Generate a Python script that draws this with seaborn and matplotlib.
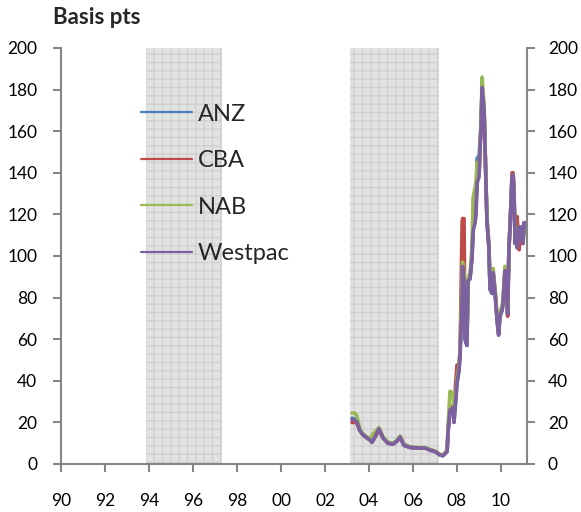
import numpy as np
import pandas as pd
import matplotlib
matplotlib.use("Agg")
import matplotlib.pyplot as plt
import seaborn as sns

# decimal years of the observations
YEARS = [2003.23, 2003.36, 2003.45, 2003.59, 2003.73, 2003.91, 2004.05, 2004.14, 2004.27, 2004.45,
         2004.64, 2004.86, 2005.09, 2005.27, 2005.41, 2005.59, 2005.86, 2006.09, 2006.32, 2006.55,
         2006.77, 2007.00, 2007.23, 2007.36, 2007.55, 2007.59, 2007.68, 2007.82, 2007.86, 2007.93,
         2008.00, 2008.09, 2008.14, 2008.23, 2008.25, 2008.32, 2008.36, 2008.45, 2008.50, 2008.59,
         2008.68, 2008.73, 2008.82, 2008.86, 2008.91, 2009.00, 2009.09, 2009.14, 2009.23, 2009.32,
         2009.36, 2009.45, 2009.50, 2009.59, 2009.64, 2009.73, 2009.82, 2009.89, 2009.95, 2010.05,
         2010.09, 2010.18, 2010.23, 2010.30, 2010.36, 2010.41, 2010.50, 2010.55, 2010.59, 2010.64,
         2010.68, 2010.73, 2010.82, 2010.86, 2010.95, 2011.00, 2011.05, 2011.14]

ANZ = [22, 21.5, 20, 16, 14, 12.5, 11.5, 10.5, 13, 17,
       12.5, 10, 9.6, 11, 13, 9, 8, 7.8, 7.7, 7.7,
       6.7, 6, 4.3, 4, 6, 15, 26, 27, 20, 29,
       39, 45, 53, 80, 95, 88, 60, 57, 88, 89,
       99, 113, 118, 122, 147, 148, 162, 181, 170, 133,
       117, 104, 84, 82, 92, 82, 69, 62, 71, 74,
       77, 93, 92, 72, 104, 114, 138, 139, 130, 106,
       111, 104, 114, 108, 114, 107, 116, 116]

CBA = [20, 20, 19.5, 16, 14, 12.5, 11.5, 10.5, 13, 16.5,
       12.5, 10, 9.6, 11, 13, 9, 8, 7.8, 7.7, 7.7,
       6.7, 6, 4.5, 4.2, 6.5, 16, 27, 28, 22, 38,
       47.6, 46, 55, 116, 118, 118, 62, 58, 88, 90,
       100, 113, 117, 121, 136, 139, 163, 181, 170, 133,
       117, 104, 85, 83, 92, 83, 70, 63, 72, 75,
       78, 94, 92, 71, 104, 115, 140, 140, 131, 107,
       112, 119, 103, 107, 114, 106, 116, 114]

NAB = [24.5, 24.5, 23, 16.5, 14.5, 13, 12, 14, 15.5, 17.5,
       13, 10.5, 10, 11.5, 13.5, 9.5, 8.3, 8, 7.9, 7.9,
       7, 6.3, 4.6, 4.3, 6.5, 18, 35, 34, 24, 32,
       41, 47, 56, 90, 97, 92, 62, 58, 89, 92,
       104, 128, 133, 135, 145, 141, 165, 186, 172, 135,
       119, 106, 86, 84, 94, 84, 72, 64, 73, 76,
       79, 95, 93, 74, 104, 114, 137, 139, 130, 107,
       111, 105, 114, 109, 114, 107, 115, 113]

WESTPAC = [21.5, 21, 20, 16, 14, 12.5, 11.5, 10.5, 13, 17,
           12.5, 10, 9.6, 11, 13, 9, 8, 7.8, 7.7, 7.7,
           6.7, 6, 4.3, 4, 6, 15, 26, 27, 20, 29,
           39, 45, 53, 80, 95, 88, 60, 57, 88, 89,
           99, 112, 116, 120, 135, 138, 162, 181, 170, 133,
           117, 104, 84, 82, 92, 82, 69, 62, 71, 74,
           77, 93, 92, 72, 104, 114, 138, 139, 130, 106,
           111, 104, 114, 108, 114, 106, 116, 114]

BANKS = ["ANZ", "CBA", "NAB", "Westpac"]
COLORS = ["#4a7ebb", "#be4b48", "#98b954", "#7d60a0"]
SHADED = [(1993.86, 1997.32), (2003.14, 2007.18)]
X_TICKS = list(range(1990, 2011, 2))
X_LABELS = [f"{y % 100:02d}" for y in X_TICKS]
Y_TICKS = list(range(0, 201, 20))
AXIS_GREY = "#868686"

sns.set_style("white")
plt.rcParams["font.family"] = ["Lato", "DejaVu Sans"]
plt.rcParams["hatch.linewidth"] = 1.0

df = pd.DataFrame({
    "year": YEARS * 4,
    "bps": ANZ + CBA + NAB + WESTPAC,
    "bank": np.repeat(BANKS, len(YEARS)),
})

fig = plt.figure(figsize=(5.81, 5.12), dpi=100)
ax = fig.add_axes([61 / 581, 48 / 512, 466 / 581, 416 / 512])

for start, end in SHADED:
    ax.axvspan(start, end, facecolor="#e2e2e2", edgecolor="#d0d0d0",
               hatch="++", linewidth=0, zorder=0)

sns.lineplot(data=df, x="year", y="bps", hue="bank", hue_order=BANKS,
             palette=dict(zip(BANKS, COLORS)), linewidth=2.6, ax=ax, zorder=3)

ax.set_xlim(1990, 2011.18)
ax.set_ylim(0, 200)
ax.set_xticks(X_TICKS)
ax.set_xticklabels(X_LABELS)
ax.set_yticks(Y_TICKS)
ax.set_xlabel("")
ax.set_ylabel("")

sns.move_legend(ax, "upper left", bbox_to_anchor=(0.172, 0.866), title=None,
                frameon=False, fontsize=17, handlelength=2.15, handletextpad=0.25,
                labelspacing=1.08, borderpad=0, borderaxespad=0)
leg = ax.get_legend()
for line in leg.get_lines():
    line.set_linewidth(1.6)
for txt in leg.get_texts():
    txt.set_color("#262626")

ax2 = ax.twinx()
ax2.set_ylim(0, 200)
ax2.set_yticks(Y_TICKS)

for a in (ax, ax2):
    for side, spine in a.spines.items():
        spine.set_color(AXIS_GREY)
        spine.set_linewidth(1.5)
    a.spines["top"].set_visible(False)
ax.spines["right"].set_visible(False)
ax2.spines["left"].set_visible(False)
ax2.spines["bottom"].set_visible(False)

ax.tick_params(axis="both", length=6, width=1.5, color=AXIS_GREY,
               labelsize=12.5, labelcolor="black")
ax.tick_params(axis="x", direction="out", bottom=True, pad=15)
ax.tick_params(axis="y", direction="out", left=True, pad=11)
ax2.tick_params(axis="y", direction="out", right=True, length=6, width=1.5,
                color=AXIS_GREY, labelsize=12.5, labelcolor="black", pad=9)

fig.text(53 / 581, 1 - 18 / 512, "Basis pts", fontweight="bold", fontsize=16,
         ha="left", va="center")

fig.savefig("out.png", dpi=100)
